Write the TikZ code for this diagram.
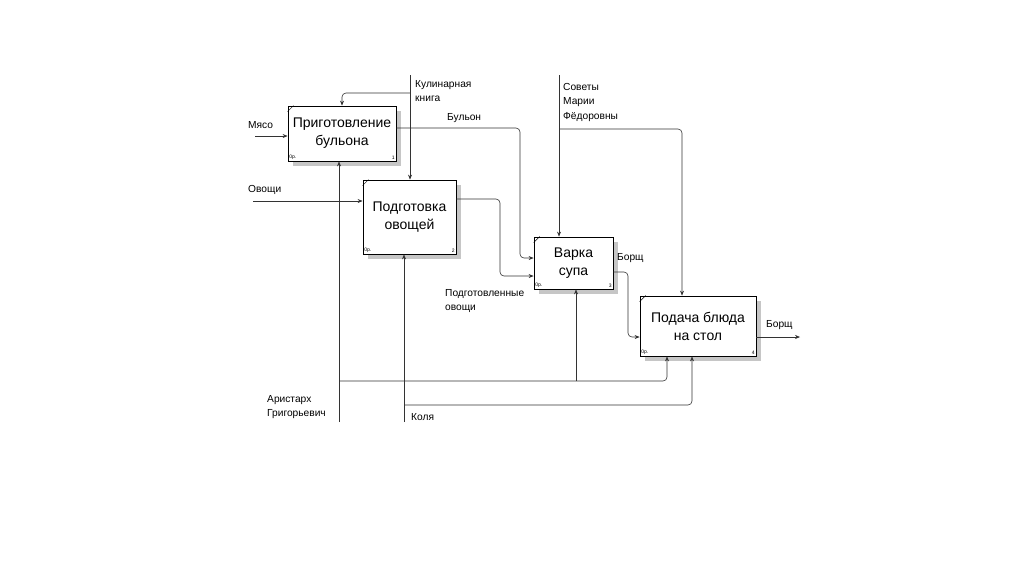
\documentclass[tikz,border=0pt]{standalone}
\usepackage{fontspec}
\setmainfont{Liberation Sans}
\usetikzlibrary{shadows,arrows.meta}

\begin{document}
\begin{tikzpicture}[x=1pt,y=-1pt,>={Stealth[length=5pt,width=4pt]},
  box/.style={draw,thick,fill=white,align=center,inner sep=0pt,
    font=\fontsize{14}{18}\selectfont,
    drop shadow={shadow xshift=5pt,shadow yshift=-5pt,fill=gray!45,opacity=1}},
  lbl/.style={anchor=west,align=left,inner sep=0pt,font=\fontsize{10.2}{14.5}\selectfont},
  tiny/.style={inner sep=1.5pt,font=\fontsize{5}{6}\selectfont},
  arr/.style={->,rounded corners=4,line width=0.6pt,draw=black!80}]
\useasboundingbox (0,0) rectangle (1024,574);

\node[box,minimum width=108,minimum height=55] (b1) at (342,133.5) {Приготовление\\бульона};
\node[box,minimum width=93,minimum height=74]  (b2) at (409.5,217) {Подготовка\\овощей};
\node[box,minimum width=79,minimum height=52]  (b3) at (573.5,263) {Варка\\супа};
\node[box,minimum width=116,minimum height=60] (b4) at (698,326) {Подача блюда\\на стол};

\foreach \b/\n in {b1/1,b2/2,b3/3,b4/4} {
  \draw ([yshift=-6pt]\b.north west) -- ([xshift=6pt]\b.north west);
  \node[tiny,anchor=south west] (\b-op) at (\b.south west) {0р.};
  \node[tiny,anchor=south east] (\b-num) at (\b.south east) {\n};
}

\coordinate (myaso) at (255,136);
\coordinate (ovoshchi) at (253,201);
\coordinate (kniga) at (410,75);
\coordinate (sovety) at (559,75);
\coordinate (ar) at (339,422);
\coordinate (kolya) at (404,422);
\coordinate (out) at (800,337);

\draw[arr] (myaso) -- (myaso -| b1.west);
\draw[arr] (ovoshchi) -- (ovoshchi -| b2.west);
\draw[arr] (kniga) -- (kniga |- b2.north);
\draw[arr] (kniga |- 0,93) -| (b1.north);
\draw[arr] (b1.east |- 0,128) -| (520,258) -- (b3.west |- 0,258);
\draw[arr] (b2.east |- 0,199) -| (500,276) -- (b3.west |- 0,276);
\draw[arr] (sovety) -- (sovety |- b3.north);
\draw[arr] (sovety |- 0,129) -| ([xshift=-16pt]b4.north);
\draw[arr] (b3.east |- 0,272) -| (628,337) -- (b4.west |- 0,337);
\draw[arr] (b4.east |- 0,337) -- (out);
\draw[arr] (ar) -- (ar |- b1.south);
\draw[arr] (ar |- 0,381) -| ([xshift=-31pt]b4.south);
\draw[arr] (576,381) -- (b3.south -| 576,0);
\draw[arr] (kolya) -- (kolya |- b2.south);
\draw[arr] (kolya |- 0,405) -| ([xshift=-6pt]b4.south);

\node[lbl] (l-myaso) at (248,125) {Мясо};
\node[lbl] (l-ovoshchi) at (248,190) {Овощи};
\node[lbl] (l-kniga) at (415,91) {Кулинарная\\книга};
\node[lbl] (l-bulon) at (447,118) {Бульон};
\node[lbl] (l-sovety) at (563,102) {Советы\\Марии\\Фёдоровны};
\node[lbl] (l-borshch1) at (617,258) {Борщ};
\node[lbl] (l-ovoshchi2) at (445,301) {Подготовленные\\овощи};
\node[lbl] (l-borshch2) at (766,325) {Борщ};
\node[lbl] (l-ar) at (267,407) {Аристарх\\Григорьевич};
\node[lbl] (l-kolya) at (411,417) {Коля};
\end{tikzpicture}
\end{document}
